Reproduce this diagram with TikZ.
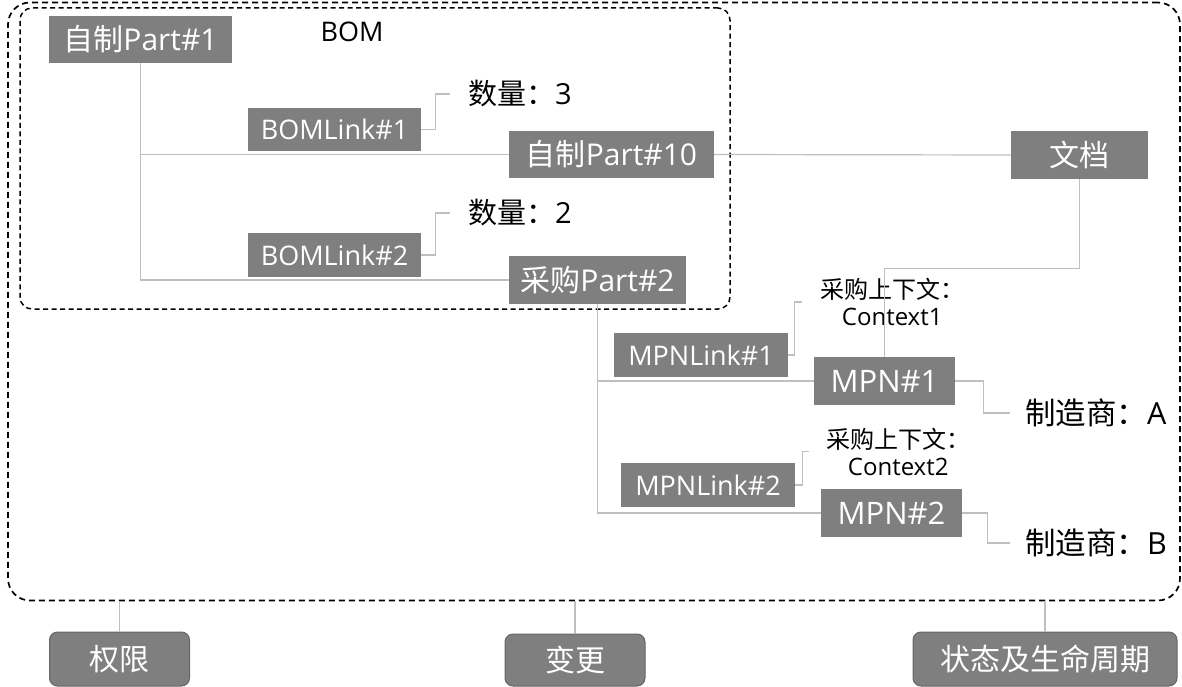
\documentclass[tikz,border=0pt]{standalone}
\usepackage{fontspec}
\setmainfont{Open Sans}
\newfontfamily\cjk{Noto Sans CJK SC}
\usetikzlibrary{calc}
\definecolor{boxgray}{HTML}{7F7F7F}
\definecolor{linegray}{HTML}{BFBFBF}
\definecolor{bborder}{HTML}{666666}
\newcommand\fsz[1]{\fontsize{#1}{#1}\selectfont}
\newcommand\lowered[1]{\raisebox{-4pt}{#1}}
\begin{document}
\begin{tikzpicture}[x=1pt,y=-1pt,
 gbox/.style={fill=boxgray, text=white, inner sep=0pt, anchor=center},
 conn/.style={draw=linegray, line width=1.2pt},
 frame/.style={draw=black, dash pattern=on 6pt off 4pt, line width=1.7pt, inner sep=0pt},
 lbl/.style={text=black, inner ysep=0pt, anchor=west},
 bbox/.style={fill=boxgray, draw=bborder, rounded corners=8pt, text=white, line width=1pt, inner sep=0pt, font=\fsz{30}\cjk}
]
\useasboundingbox (0,0) rectangle (1182,687);
\clip (0,0) rectangle (1182,687);

% frames
\node[frame, rounded corners=22pt, minimum width=1172pt, minimum height=598pt] (outer) at (594,301.5) {};
\node[frame, dash pattern=on 5pt off 3.5pt, line width=1.5pt, rounded corners=12pt, minimum width=710pt, minimum height=301pt] (bom) at (375,158.5) {};
\node[text=black, inner sep=0pt, font=\fsz{27}] (bomlbl) at (352,32) {BOM};

% grey boxes
\node[gbox, minimum width=183pt, minimum height=47pt, font=\fsz{30}] (p1) at (140.5,39.5) {{\cjk 自制}Part\#1};
\node[gbox, minimum width=173pt, minimum height=43pt, font=\fsz{27}] (bl1) at (334.5,129.5) {BOMLink\#1};
\node[gbox, minimum width=205pt, minimum height=47pt, font=\fsz{30}] (p10) at (611.5,154.5) {{\cjk 自制}Part\#10};
\node[gbox, minimum width=173pt, minimum height=44pt, font=\fsz{27}] (bl2) at (334.5,255) {BOMLink\#2};
\node[gbox, minimum width=177pt, minimum height=48pt, font=\fsz{30}] (p2) at (597.5,280) {{\cjk 采购}Part\#2};
\node[gbox, minimum width=137pt, minimum height=48pt, font=\fsz{30}\cjk] (doc) at (1079.5,155) {文档};
\node[gbox, minimum width=174pt, minimum height=44pt, font=\fsz{27}] (ml1) at (701,355) {MPNLink\#1};
\node[gbox, minimum width=141pt, minimum height=48pt, font=\fsz{31}] (mpn1) at (884.5,381) {MPN\#1};
\node[gbox, minimum width=174pt, minimum height=44pt, font=\fsz{27}] (ml2) at (708,485) {MPNLink\#2};
\node[gbox, minimum width=141pt, minimum height=48pt, font=\fsz{31}] (mpn2) at (891.5,513) {MPN\#2};

% labels
\node[lbl, inner xsep=18pt, font=\fsz{29}] (q3) at (450,94) {{\cjk 数量：}3};
\node[lbl, inner xsep=18pt, font=\fsz{29}] (q2) at (450,213) {{\cjk 数量：}2};
\node[lbl, inner xsep=18pt, align=center, font=\fontsize{24}{27}\selectfont] (c1) at (802,302) {{\cjk 采购上下文：}\\Context1};
\node[lbl, inner xsep=17pt, align=center, font=\fontsize{24}{27}\selectfont] (c2) at (809,451.5) {{\cjk 采购上下文：}\\Context2};
\node[lbl, inner xsep=15pt, font=\fsz{30.5}] (mA) at (1010,413) {{\cjk 制造商：}A};
\node[lbl, inner xsep=15pt, font=\fsz{30.5}] (mB) at (1010,543) {{\cjk 制造商：}B};

% bottom boxes
\node[bbox, minimum width=140pt, minimum height=54pt] (qx) at (119.5,659) {\lowered{权限}};
\node[bbox, minimum width=140pt, minimum height=52pt] (bg) at (575,660) {\lowered{变更}};
\node[bbox, minimum width=264pt, minimum height=54pt] (zt) at (1045,659) {\lowered{状态及生命周期}};

% connectors
\draw[conn] (p1.south) |- (p2.west);
\draw[conn] (p1.south |- p10.west) -- (p10.west);
\draw[conn] (bl1.east) -- ++(14,0) |- (q3.west);
\draw[conn] (bl2.east) -- ++(14,0) |- (q2.west);
\draw[conn] (p10.east) -- (doc.west);
\draw[conn] (doc.south) -- ++(0,89) -| (mpn1.north);
\draw[conn] (p2.south) |- (mpn2.west);
\draw[conn] (p2.south |- mpn1.west) -- (mpn1.west);
\draw[conn] (ml1.east) -- ++(6,0) |- (c1.west);
\draw[conn] (ml2.east) -- ++(7,0) |- (c2.west);
\draw[conn] (mpn1.east) -- ++(28,0) |- (mA.west);
\draw[conn] (mpn2.east) -- ++(25,0) |- (mB.west);
\draw[conn] (outer.south -| qx.north) -- (qx.north);
\draw[conn] (outer.south -| bg.north) -- (bg.north);
\draw[conn] (outer.south -| zt.north) -- (zt.north);
\end{tikzpicture}
\end{document}
